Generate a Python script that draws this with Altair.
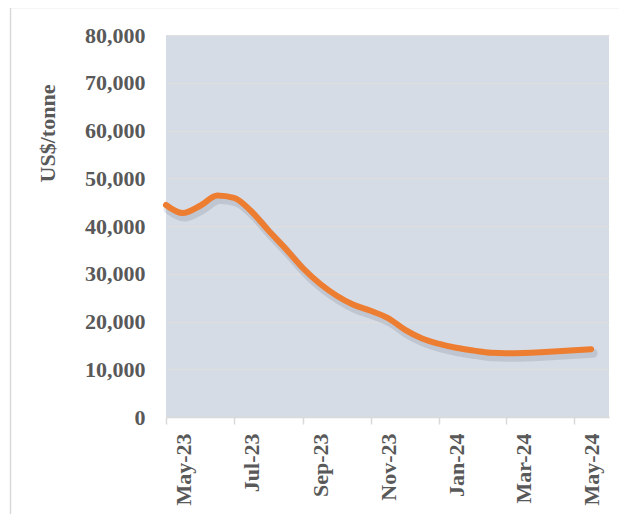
import altair as alt
import pandas as pd

# Half-monthly readings (US$/tonne)
dates = [
    "2023-05-01", "2023-05-16", "2023-06-01", "2023-06-16", "2023-07-01", "2023-07-16",
    "2023-08-01", "2023-08-16", "2023-09-01", "2023-09-16", "2023-10-01", "2023-10-16",
    "2023-11-01", "2023-11-16", "2023-12-01", "2023-12-16", "2024-01-01", "2024-01-16",
    "2024-02-01", "2024-02-16", "2024-03-01", "2024-03-16", "2024-04-01", "2024-04-16",
    "2024-05-01", "2024-05-16",
]
prices = [
    44400, 42700, 44300, 46400, 45900, 43200,
    39000, 35300, 31100, 27900, 25400, 23500,
    22200, 20700, 18300, 16500, 15300, 14500,
    13900, 13450, 13350, 13400, 13550, 13750,
    14000, 14200,
]
y_ticks = [0, 10000, 20000, 30000, 40000, 50000, 60000, 70000, 80000]
x_tick_months = [(2023, 5), (2023, 7), (2023, 9), (2023, 11), (2024, 1), (2024, 3), (2024, 5)]

df = pd.DataFrame({"date": dates, "price": prices})

FONT = "Liberation Serif"
TXT = "#595959"

x_enc = alt.X(
    "date:T",
    scale=alt.Scale(
        type="utc",
        domain=[alt.DateTime(year=2023, month=5, date=1, utc=True),
                alt.DateTime(year=2024, month=6, date=1, utc=True)],
        nice=False,
    ),
    axis=alt.Axis(
        title=None,
        values=[alt.DateTime(year=y, month=m, date=1, utc=True) for y, m in x_tick_months],
        labelExpr="utcFormat(datum.value, '%b-%y')",
        labelAngle=270,
        labelAlign="right",
        labelBaseline="middle",
        labelOffset=17,
        labelPadding=9,
        labelFont=FONT,
        labelFontSize=22,
        labelFontWeight="bold",
        labelColor=TXT,
        labelOverlap=False,
        labelFlush=False,
        labelBound=False,
        tickSize=7,
        tickColor="#D9D9D9",
        tickWidth=1.5,
        domainColor="#D9D9D9",
        domainWidth=1.5,
        grid=False,
    ),
)

y_enc = alt.Y(
    "price:Q",
    scale=alt.Scale(domain=[0, 80000], nice=False),
    axis=alt.Axis(
        title="US$/tonne",
        titleFont=FONT,
        titleFontSize=22,
        titleFontWeight="bold",
        titleColor=TXT,
        titleAngle=270,
        titleX=-119,
        titleY=98,
        titleBaseline="middle",
        values=y_ticks,
        format=",d",
        labelFont=FONT,
        labelFontSize=22,
        labelFontWeight="bold",
        labelColor=TXT,
        labelPadding=21,
        ticks=False,
        domain=False,
        grid=True,
        gridColor="#E1DFDC",
        gridWidth=1,
    ),
)

shadow = alt.Chart(df).mark_line(
    color="#4A5568", opacity=0.16, strokeWidth=9, strokeCap="round",
    interpolate="monotone", xOffset=2, yOffset=4,
).encode(x=x_enc, y=y_enc)

line = alt.Chart(df).mark_line(
    color="#ED7D31", strokeWidth=6, strokeCap="round", interpolate="monotone",
).encode(x=x_enc, y=y_enc)

frame = alt.Chart(pd.DataFrame({"k": [0]})).mark_rect(
    fillOpacity=0, stroke="#D9D9D9", strokeWidth=1.5,
).encode(
    x=alt.value(-155.5), x2=alt.value(480), y=alt.value(-27.5), y2=alt.value(520),
)

chart = alt.layer(frame, shadow, line).properties(
    width=443,
    height=382,
    autosize=alt.AutoSizeParams(type="none"),
    padding={"left": 158, "top": 27, "right": 10, "bottom": 97},
).configure_view(fill="#D6DCE5", strokeWidth=0)

chart.save("out.html", embed_options={"renderer": "svg", "actions": False})
